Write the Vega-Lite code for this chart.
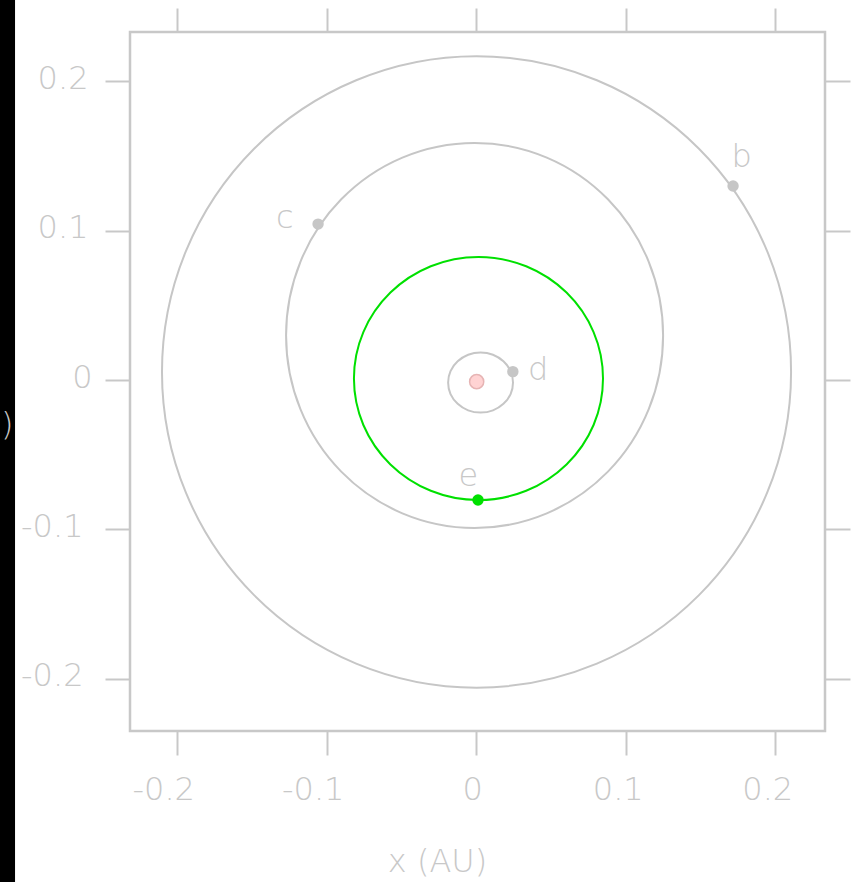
{
  "$schema": "https://vega.github.io/schema/vega-lite/v6.json",
  "autosize": "none",
  "width": 695,
  "height": 699,
  "padding": {"left": 130, "top": 32, "right": 33, "bottom": 151},
  "background": "white",
  "config": {
    "view": {"stroke": "#c8c8c8", "strokeWidth": 2.5},
    "axis": {"labelFont": "DejaVu Sans", "titleFont": "DejaVu Sans", "grid": false, "domain": false, "labelFontWeight": 300, "titleFontWeight": 300}
  },
  "datasets": {
    "orbits": [
      {"orbit":"b","k":0,"x":0.2106,"y":0.0054},{"orbit":"b","k":1,"x":0.1946,"y":0.0862},{"orbit":"b","k":2,"x":0.1490,"y":0.1547},{"orbit":"b","k":3,"x":0.0807,"y":0.2005},
      {"orbit":"b","k":4,"x":0.0002,"y":0.2166},{"orbit":"b","k":5,"x":-0.0803,"y":0.2005},{"orbit":"b","k":6,"x":-0.1486,"y":0.1547},{"orbit":"b","k":7,"x":-0.1942,"y":0.0862},
      {"orbit":"b","k":8,"x":-0.2102,"y":0.0054},{"orbit":"b","k":9,"x":-0.1942,"y":-0.0754},{"orbit":"b","k":10,"x":-0.1486,"y":-0.1439},{"orbit":"b","k":11,"x":-0.0803,"y":-0.1897},
      {"orbit":"b","k":12,"x":0.0002,"y":-0.2058},{"orbit":"b","k":13,"x":0.0807,"y":-0.1897},{"orbit":"b","k":14,"x":0.1490,"y":-0.1439},{"orbit":"b","k":15,"x":0.1946,"y":-0.0754},
      {"orbit":"c","k":0,"x":0.1250,"y":0.0298},{"orbit":"c","k":1,"x":0.1154,"y":0.0791},{"orbit":"c","k":2,"x":0.0881,"y":0.1209},{"orbit":"c","k":3,"x":0.0472,"y":0.1488},
      {"orbit":"c","k":4,"x":-0.0011,"y":0.1586},{"orbit":"c","k":5,"x":-0.0494,"y":0.1488},{"orbit":"c","k":6,"x":-0.0903,"y":0.1209},{"orbit":"c","k":7,"x":-0.1176,"y":0.0791},
      {"orbit":"c","k":8,"x":-0.1272,"y":0.0298},{"orbit":"c","k":9,"x":-0.1176,"y":-0.0195},{"orbit":"c","k":10,"x":-0.0903,"y":-0.0613},{"orbit":"c","k":11,"x":-0.0494,"y":-0.0892},
      {"orbit":"c","k":12,"x":-0.0011,"y":-0.0990},{"orbit":"c","k":13,"x":0.0472,"y":-0.0892},{"orbit":"c","k":14,"x":0.0881,"y":-0.0613},{"orbit":"c","k":15,"x":0.1154,"y":-0.0195},
      {"orbit":"d","k":0,"x":0.0246,"y":-0.0017},{"orbit":"d","k":1,"x":0.0230,"y":0.0060},{"orbit":"d","k":2,"x":0.0182,"y":0.0125},{"orbit":"d","k":3,"x":0.0112,"y":0.0169},
      {"orbit":"d","k":4,"x":0.0029,"y":0.0184},{"orbit":"d","k":5,"x":-0.0054,"y":0.0169},{"orbit":"d","k":6,"x":-0.0124,"y":0.0125},{"orbit":"d","k":7,"x":-0.0172,"y":0.0060},
      {"orbit":"d","k":8,"x":-0.0188,"y":-0.0017},{"orbit":"d","k":9,"x":-0.0172,"y":-0.0094},{"orbit":"d","k":10,"x":-0.0124,"y":-0.0159},{"orbit":"d","k":11,"x":-0.0054,"y":-0.0203},
      {"orbit":"d","k":12,"x":0.0029,"y":-0.0218},{"orbit":"d","k":13,"x":0.0112,"y":-0.0203},{"orbit":"d","k":14,"x":0.0182,"y":-0.0159},{"orbit":"d","k":15,"x":0.0230,"y":-0.0094},
      {"orbit":"e","k":0,"x":0.0848,"y":0.0010},{"orbit":"e","k":1,"x":0.0785,"y":0.0321},{"orbit":"e","k":2,"x":0.0604,"y":0.0585},{"orbit":"e","k":3,"x":0.0334,"y":0.0761},
      {"orbit":"e","k":4,"x":0.0015,"y":0.0823},{"orbit":"e","k":5,"x":-0.0304,"y":0.0761},{"orbit":"e","k":6,"x":-0.0574,"y":0.0585},{"orbit":"e","k":7,"x":-0.0755,"y":0.0321},
      {"orbit":"e","k":8,"x":-0.0818,"y":0.0010},{"orbit":"e","k":9,"x":-0.0755,"y":-0.0301},{"orbit":"e","k":10,"x":-0.0574,"y":-0.0565},{"orbit":"e","k":11,"x":-0.0304,"y":-0.0741},
      {"orbit":"e","k":12,"x":0.0015,"y":-0.0803},{"orbit":"e","k":13,"x":0.0334,"y":-0.0741},{"orbit":"e","k":14,"x":0.0604,"y":-0.0565},{"orbit":"e","k":15,"x":0.0785,"y":-0.0301}
    ],
    "planets": [
      {"name":"b","x":0.1718,"y":0.1298,"lx":0.1775,"ly":0.1425},
      {"name":"c","x":-0.1058,"y":0.1043,"lx":-0.1281,"ly":0.1017},
      {"name":"d","x":0.0245,"y":0.0056,"lx":0.0415,"ly":0.0},
      {"name":"e","x":0.0012,"y":-0.0803,"lx":-0.0053,"ly":-0.0709}
    ],
    "star": [{"name":"star","x":0.0003,"y":-0.0011}]
  },
  "resolve": {"axis": {"x": "independent", "y": "independent"}},
  "layer": [
    {
      "data": {"values": [{}]},
      "mark": {"type": "rect", "color": "black"},
      "encoding": {
        "x": {"datum": -0.35, "type": "quantitative", "scale": {"domain": [-0.2316, 0.2333], "nice": false, "zero": false}, "axis": null},
        "x2": {"datum": -0.3085},
        "y": {"datum": 0.27, "type": "quantitative", "scale": {"domain": [-0.2348, 0.2328], "nice": false, "zero": false}, "axis": null},
        "y2": {"datum": -0.36}
      }
    },
    {
      "data": {"name": "orbits"},
      "mark": {"type": "line", "interpolate": "cardinal-closed", "strokeWidth": 2},
      "encoding": {
        "x": {"field": "x", "type": "quantitative", "scale": {"domain": [-0.2316, 0.2333], "nice": false, "zero": false},
          "axis": {"orient": "bottom", "values": [-0.2, -0.1, 0, 0.1, 0.2], "tickSize": 24, "tickWidth": 2, "tickColor": "#c8c8c8",
            "labelColor": "#c8c8c8", "labelFontSize": 32, "labelPadding": 19, "labelBaseline": "top",
            "labelOffset": {"expr": "datum.value < 0 ? -14 : (datum.value == 0 ? -4 : -8)"},
            "labelExpr": "datum.value == 0 ? '0' : (datum.value < 0 ? '-' : '') + format(abs(datum.value), '.1f')",
            "title": "x (AU)", "titleColor": "#c8c8c8", "titleFontSize": 32,
            "titleX": 307, "titleY": 140, "titleAlign": "center", "titleBaseline": "alphabetic"}},
        "y": {"field": "y", "type": "quantitative", "scale": {"domain": [-0.2348, 0.2328], "nice": false, "zero": false},
          "axis": {"orient": "left", "zindex": 1, "values": [-0.2, -0.1, 0, 0.1, 0.2], "tickSize": 25, "tickWidth": 2, "tickColor": "#c8c8c8",
            "labelColor": "#c8c8c8", "labelFontSize": 32, "labelBaseline": "middle", "labelOffset": -3,
            "labelPadding": {"expr": "datum.value < 0 ? 22 : (datum.value == 0 ? 13 : 17)"},
            "labelExpr": "datum.value == 0 ? '0' : (datum.value < 0 ? '-' : '') + format(abs(datum.value), '.1f')",
            "title": "y (AU)", "titleColor": "#c8c8c8", "titleFontSize": 32, "titleAngle": 0,
            "titleX": -117, "titleY": 392, "titleAlign": "right", "titleBaseline": "middle"}},
        "order": {"field": "k", "type": "quantitative"},
        "color": {"field": "orbit", "type": "nominal", "scale": {"domain": ["b", "c", "d", "e"], "range": ["#c6c6c6", "#c6c6c6", "#c6c6c6", "#00e000"]}, "legend": null}
      }
    },
    {
      "data": {"name": "star"},
      "mark": {"type": "point", "shape": "circle", "filled": true, "fill": "#ffd3d3", "stroke": "#e6b4b4", "strokeWidth": 1.5, "size": 200, "opacity": 1},
      "encoding": {
        "x": {"field": "x", "type": "quantitative", "scale": {"domain": [-0.2316, 0.2333], "nice": false, "zero": false}, "axis": null},
        "y": {"field": "y", "type": "quantitative", "scale": {"domain": [-0.2348, 0.2328], "nice": false, "zero": false}, "axis": null}
      }
    },
    {
      "data": {"name": "planets"},
      "mark": {"type": "point", "shape": "circle", "filled": true, "size": 130, "opacity": 1},
      "encoding": {
        "x": {"field": "x", "type": "quantitative", "scale": {"domain": [-0.2316, 0.2333], "nice": false, "zero": false},
          "axis": {"orient": "top", "values": [-0.2, -0.1, 0, 0.1, 0.2], "tickSize": 24, "tickWidth": 2, "tickColor": "#c8c8c8", "labels": false, "title": null}},
        "y": {"field": "y", "type": "quantitative", "scale": {"domain": [-0.2348, 0.2328], "nice": false, "zero": false},
          "axis": {"orient": "right", "values": [-0.2, -0.1, 0, 0.1, 0.2], "tickSize": 25, "tickWidth": 2, "tickColor": "#c8c8c8", "labels": false, "title": null}},
        "color": {"field": "name", "type": "nominal", "scale": {"domain": ["b", "c", "d", "e"], "range": ["#c6c6c6", "#c6c6c6", "#c6c6c6", "#00e000"]}, "legend": null}
      }
    },
    {
      "data": {"name": "planets"},
      "mark": {"type": "text", "font": "DejaVu Sans", "fontSize": 32, "fontWeight": 300, "color": "#c8c8c8", "align": "center", "baseline": "alphabetic"},
      "encoding": {
        "x": {"field": "lx", "type": "quantitative", "scale": {"domain": [-0.2316, 0.2333], "nice": false, "zero": false}, "axis": null},
        "y": {"field": "ly", "type": "quantitative", "scale": {"domain": [-0.2348, 0.2328], "nice": false, "zero": false}, "axis": null},
        "text": {"field": "name", "type": "nominal"}
      }
    }
  ]
}
